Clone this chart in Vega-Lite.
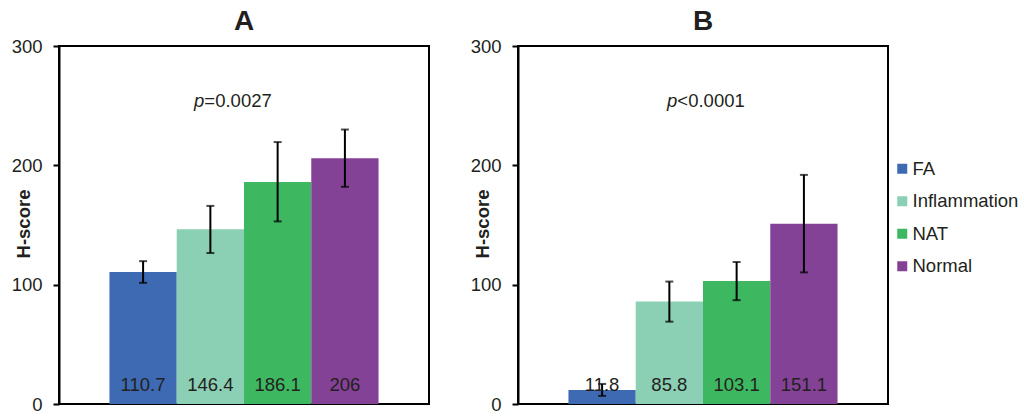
{
  "$schema": "https://vega.github.io/schema/vega-lite/v6.json",
  "padding": {"left": 10, "top": 6, "right": 5, "bottom": 5},
  "datasets": {
    "hscore": [
      {"panel": "A", "group": "FA", "value": 110.7, "lo": 101.5, "hi": 119.7},
      {"panel": "A", "group": "Inflammation", "value": 146.4, "lo": 126.5, "hi": 166},
      {"panel": "A", "group": "NAT", "value": 186.1, "lo": 153, "hi": 219.5},
      {"panel": "A", "group": "Normal", "value": 206, "lo": 182, "hi": 230},
      {"panel": "B", "group": "FA", "value": 11.8, "lo": 6.8, "hi": 16.8},
      {"panel": "B", "group": "Inflammation", "value": 85.8, "lo": 69, "hi": 102.6},
      {"panel": "B", "group": "NAT", "value": 103.1, "lo": 87, "hi": 119},
      {"panel": "B", "group": "Normal", "value": 151.1, "lo": 110.3, "hi": 192}
    ],
    "pvals": [
      {"panel": "A", "label": "=0.0027"},
      {"panel": "B", "label": "<0.0001"}
    ]
  },
  "spacing": 39,
  "hconcat": [
    {
      "width": 370,
      "height": 358,
      "title": {"text": "A"},
      "layer": [
        {
          "data": {"name": "hscore"},
          "transform": [{"filter": "datum.panel == 'A'"}],
          "layer": [
            {
              "mark": {"type": "bar"},
              "encoding": {
                "x": {"field": "group", "type": "nominal", "scale": {"paddingInner": 0, "paddingOuter": 0.75}, "axis": null},
                "y": {"field": "value", "type": "quantitative", "scale": {"domain": [0, 300]}, "title": "H-score", "axis": {"values": [0, 100, 200, 300]}},
                "color": {"field": "group", "type": "nominal", "scale": {"domain": ["FA", "Inflammation", "NAT", "Normal"], "range": ["#3d6ab3", "#8bcfb4", "#3db861", "#844296"]}, "legend": {"title": null}}
              }
            },
            {
              "mark": {"type": "errorbar", "ticks": {"size": 8}, "color": "black", "thickness": 2},
              "encoding": {
                "x": {"field": "group", "type": "nominal"},
                "y": {"field": "lo", "type": "quantitative", "title": "H-score"},
                "y2": {"field": "hi"}
              }
            },
            {
              "mark": {"type": "text", "fontSize": 18.5, "color": "#231f20", "baseline": "middle", "dy": -19},
              "encoding": {
                "x": {"field": "group", "type": "nominal"},
                "y": {"datum": 0},
                "text": {"field": "value", "type": "nominal"}
              }
            }
          ]
        },
        {
          "data": {"name": "pvals"},
          "transform": [{"filter": "datum.panel == 'A'"}],
          "layer": [
            {
              "mark": {"type": "text", "fontSize": 18.5, "fontStyle": "italic", "color": "#231f20", "align": "right", "baseline": "middle", "dx": -6},
              "encoding": {"x": {"datum": "Inflammation"}, "y": {"datum": 254}, "text": {"value": "p"}}
            },
            {
              "mark": {"type": "text", "fontSize": 18.5, "color": "#231f20", "align": "left", "baseline": "middle", "dx": -6},
              "encoding": {"x": {"datum": "Inflammation"}, "y": {"datum": 254}, "text": {"field": "label"}}
            }
          ]
        }
      ]
    },
    {
      "width": 370,
      "height": 358,
      "title": {"text": "B"},
      "layer": [
        {
          "data": {"name": "hscore"},
          "transform": [{"filter": "datum.panel == 'B'"}],
          "layer": [
            {
              "mark": {"type": "bar"},
              "encoding": {
                "x": {"field": "group", "type": "nominal", "scale": {"paddingInner": 0, "paddingOuter": 0.75}, "axis": null},
                "y": {"field": "value", "type": "quantitative", "scale": {"domain": [0, 300]}, "title": "H-score", "axis": {"values": [0, 100, 200, 300]}},
                "color": {"field": "group", "type": "nominal", "scale": {"domain": ["FA", "Inflammation", "NAT", "Normal"], "range": ["#3d6ab3", "#8bcfb4", "#3db861", "#844296"]}, "legend": {"title": null}}
              }
            },
            {
              "mark": {"type": "errorbar", "ticks": {"size": 8}, "color": "black", "thickness": 2},
              "encoding": {
                "x": {"field": "group", "type": "nominal"},
                "y": {"field": "lo", "type": "quantitative", "title": "H-score"},
                "y2": {"field": "hi"}
              }
            },
            {
              "mark": {"type": "text", "fontSize": 18.5, "color": "#231f20", "baseline": "middle", "dy": -19},
              "encoding": {
                "x": {"field": "group", "type": "nominal"},
                "y": {"datum": 0},
                "text": {"field": "value", "type": "nominal"}
              }
            }
          ]
        },
        {
          "data": {"name": "pvals"},
          "transform": [{"filter": "datum.panel == 'B'"}],
          "layer": [
            {
              "mark": {"type": "text", "fontSize": 18.5, "fontStyle": "italic", "color": "#231f20", "align": "right", "baseline": "middle", "dx": 8},
              "encoding": {"x": {"datum": "Inflammation"}, "y": {"datum": 254}, "text": {"value": "p"}}
            },
            {
              "mark": {"type": "text", "fontSize": 18.5, "color": "#231f20", "align": "left", "baseline": "middle", "dx": 8},
              "encoding": {"x": {"datum": "Inflammation"}, "y": {"datum": 254}, "text": {"field": "label"}}
            }
          ]
        }
      ]
    }
  ],
  "config": {
    "font": "Liberation Sans",
    "view": {"stroke": "black", "strokeWidth": 2},
    "title": {"fontSize": 28, "fontWeight": "bold", "color": "#231f20", "offset": 1.5},
    "axisY": {
      "grid": false,
      "domainColor": "black",
      "domainWidth": 2,
      "tickColor": "black",
      "tickWidth": 2,
      "tickSize": 6,
      "labelFontSize": 18.5,
      "labelColor": "#231f20",
      "labelPadding": 11,
      "titleFontSize": 18.5,
      "titleFontWeight": "bold",
      "titleColor": "#231f20",
      "titleAngle": -90,
      "titleAlign": "center",
      "titleBaseline": "middle",
      "titleX": -36,
      "titleY": 177.5
    },
    "legend": {
      "orient": "none",
      "legendX": 834,
      "legendY": 113.5,
      "symbolType": "square",
      "symbolSize": 100,
      "symbolStrokeWidth": 0,
      "symbolOpacity": 1,
      "labelFontSize": 18.5,
      "labelColor": "#231f20",
      "labelOffset": 1,
      "rowPadding": 13.5
    }
  }
}
